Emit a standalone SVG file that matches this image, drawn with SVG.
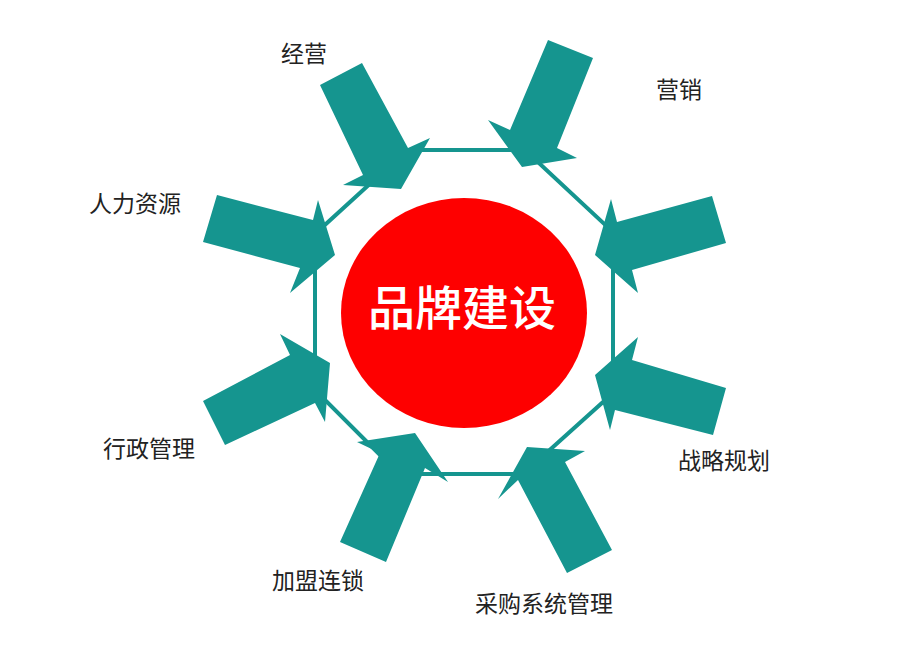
<svg xmlns="http://www.w3.org/2000/svg" width="915" height="646" viewBox="0 0 915 646">
<style>
.arrow{fill:#15958f;stroke:none}
.ring{fill:none;stroke:#15958f;stroke-width:4}
.lbl{font-family:"Noto Sans CJK SC","Noto Sans",sans-serif;font-size:23px;fill:#222;text-anchor:middle}
.title{font-family:"Noto Sans CJK SC","Noto Sans",sans-serif;font-size:47px;font-weight:500;fill:#fff;text-anchor:middle}
</style>
<rect width="915" height="646" fill="#fff"/>
<g id="connectors">
<polygon class="ring" points="407,150 525,150 613,232 613,393 523,474 399,474 315,390 315,234"/>
</g>
<g id="center">
<ellipse cx="464" cy="313" rx="123" ry="115" fill="#fe0000"/>
<text class="title" x="462" y="325">品牌建设</text>
</g>
<g id="jingying">
<polygon class="arrow" points="320,85 362,63 408,148 430,138 401,189 343,185 363,175"/>
<text class="lbl" x="304" y="62">经营</text>
</g>
<g id="yingxiao">
<polygon class="arrow" points="548,40 593,58 557,148 577,158 522,167 488,120 510,130"/>
<text class="lbl" x="679" y="98">营销</text>
</g>
<g id="renliziyuan">
<polygon class="arrow" points="217,195 313,220 318,200 335,255 290,293 300,268 203,242"/>
<text class="lbl" x="135" y="212">人力资源</text>
</g>
<g id="arrow-right-upper">
<polygon class="arrow" points="712,196 726,243 632,270 638,293 595,255 611,199 617,222"/>
</g>
<g id="xingzhengguanli">
<polygon class="arrow" points="203,401 290,355 280,334 330,363 325,422 315,403 225,445"/>
<text class="lbl" x="149" y="457">行政管理</text>
</g>
<g id="zhanlueguihua">
<polygon class="arrow" points="726,388 713,435 615,410 610,430 595,375 638,337 632,360"/>
<text class="lbl" x="724" y="469">战略规划</text>
</g>
<g id="jiamengliansuo">
<polygon class="arrow" points="340,542 380,453 357,442 415,433 448,482 425,468 386,562"/>
<text class="lbl" x="318" y="589">加盟连锁</text>
</g>
<g id="caigouxitongguanli">
<polygon class="arrow" points="567,573 518,480 498,499 527,447 585,451 565,462 612,550"/>
<text class="lbl" x="544" y="612">采购系统管理</text>
</g>
</svg>
